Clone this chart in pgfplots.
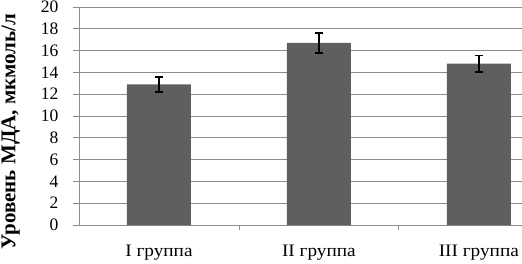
\documentclass[border=0pt]{standalone}
\usepackage{fontspec}
\setmainfont{Liberation Serif}
\usepackage{pgfplots}
\pgfplotsset{compat=1.18}
\definecolor{barc}{RGB}{95,95,95}
\definecolor{gridc}{RGB}{140,140,140}
\begin{document}
\begin{tikzpicture}[x=1pt,y=1pt]
\begin{axis}[
  at={(0,0)}, anchor=south west,
  scale only axis, width=443pt, height=218pt,
  xmin=-0.5, xmax=2.27, ymin=0, ymax=20,
  axis x line*=bottom, axis y line*=left,
  axis line style={gridc, line width=0.8pt, -},
  ytick={0,2,...,20}, ymajorgrids,
  grid style={gridc, line width=0.8pt},
  ytick style={gridc, line width=0.8pt},
  ytick align=outside, major tick length=6pt,
  xtick={0,1,2}, xticklabels={I группа, II группа, III группа},
  xtick style={draw=none},
  extra x ticks={0.5,1.5}, extra x tick labels={},
  extra x tick style={grid=none, xtick style={draw=gridc, line width=0.8pt}, tick align=outside, major tick length=5pt},
  /pgf/number format/assume math mode=true,
  tick label style={font=\fontsize{17.5}{19}\selectfont},
  yticklabel style={anchor=east, xshift=-11pt},
  xticklabel style={yshift=-17pt, xscale=1.1},
  ylabel={\fontsize{21}{23}\selectfont\bfseries Уровень МДА, мкмоль/л},
  ylabel style={at={(axis description cs:-0.133,0.429)}, anchor=south, inner sep=0pt},
  clip=false,
]
\addplot[ybar, bar width=0.4, fill=barc, draw=none,
  error bars/.cd, y dir=both, y explicit,
  error bar style={black, line width=1.5pt},
  error mark options={rotate=90, mark size=4pt, line width=1.5pt, black}]
  coordinates {(0,12.9) +- (0,0.7) (1,16.7) +- (0,0.9) (2,14.8) +- (0,0.75)};
\end{axis}
\pgfresetboundingbox
\useasboundingbox (-79pt,-38pt) rectangle (443pt,225pt);
\end{tikzpicture}
\end{document}
